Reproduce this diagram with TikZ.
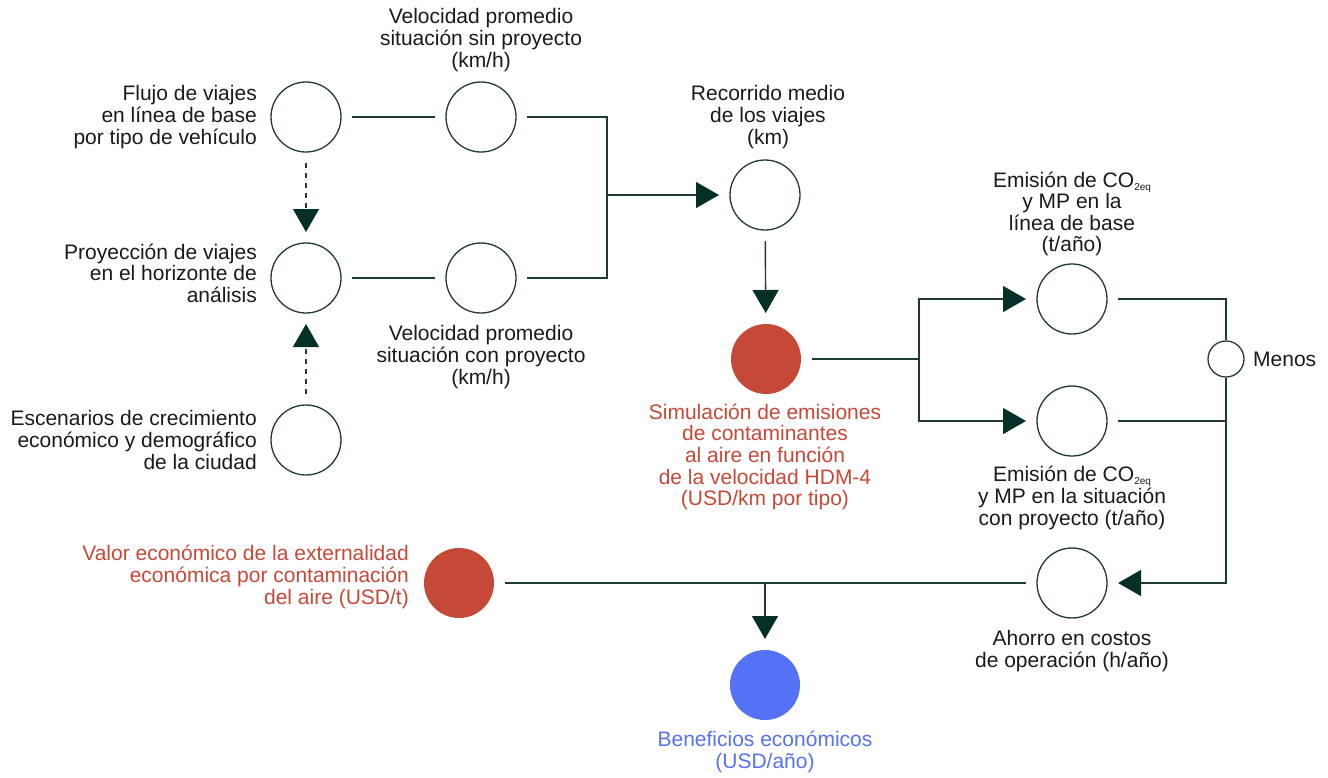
\documentclass[tikz,border=0pt]{standalone}
\usepackage{fontspec}
\setmainfont{Liberation Sans}
\usetikzlibrary{arrows.meta}
\definecolor{ln}{HTML}{1E3B35}
\definecolor{dk}{HTML}{05302A}
\definecolor{rd}{HTML}{C64937}
\definecolor{bl}{HTML}{5571F5}
\definecolor{tx}{HTML}{1A1A1A}
\newcommand{\coeq}{CO\raisebox{-3pt}{\fontsize{10}{10}\selectfont 2eq}}
\begin{document}
\begin{tikzpicture}[x=1pt,y=-1pt,
  circ/.style={circle, draw=ln, line width=1.3pt, minimum size=70pt, inner sep=0pt, outer sep=11pt},
  conn/.style={draw=ln, line width=1.4pt},
  arr/.style={conn, -{Triangle[length=23pt,width=26pt,color=dk]}},
  dsh/.style={dash pattern=on 5pt off 5pt},
  lbl/.style={font=\fontsize{21}{21.6}\selectfont, text=tx, inner sep=0pt, align=center},
]
\useasboundingbox (0,0) rectangle (1328,777);

% circles
\node[circ] (A) at (306,117) {};
\node[circ] (B) at (481,117) {};
\node[circ] (C) at (306,278) {};
\node[circ] (D) at (481,278) {};
\node[circ] (E) at (306,440) {};
\node[circ] (F) at (765,195) {};
\node[circ, fill=rd, draw=none] (G) at (766,359) {};
\node[circ] (H) at (1072,299) {};
\node[circ] (I) at (1072,421) {};
\node[circle, draw=ln, line width=1.3pt, minimum size=36pt, inner sep=0pt] (M) at (1226,359) {};
\node[circ] (J) at (1072,583) {};
\node[circ, fill=rd, draw=none] (K) at (459,583) {};
\node[circ, fill=bl, draw=none] (L) at (765,685) {};

% junctions
\coordinate (j1) at (607,195);
\coordinate (j2) at (919,359);
\coordinate (j3) at (765,583);

% connectors
\draw[conn] (A) -- (B);
\draw[conn] (C) -- (D);
\draw[conn] (B.east) -| (j1);
\draw[conn] (D.east) -| (j1);
\draw[arr] (j1) -- (F);
\draw[arr] (F) -- (G);
\draw[conn] (G) -- (j2);
\draw[arr] (j2) |- (H);
\draw[arr] (j2) |- (I);
\draw[conn] (H.east) -| (M);
\draw[conn] (I.east) -| (M);
\draw[arr] (M) |- (J);
\draw[conn] (J) -- (K);
\draw[arr] (j3) -- (L);
\draw[arr, dsh] (A) -- (C);
\draw[arr, dsh] (E) -- (C);

% labels
\node[lbl, anchor=east, align=right] (tA) at (257,117) {Flujo de viajes\\en línea de base\\por tipo de vehículo};
\node[lbl, anchor=east, align=right] (tC) at (257,273) {Proyección de viajes\\en el horizonte de\\análisis};
\node[lbl, anchor=east, align=right] (tE) at (257,440) {Escenarios de crecimiento\\económico y demográfico\\de la ciudad};
\node[lbl] (tB) at (481,40) {Velocidad promedio\\situación sin proyecto\\(km/h)};
\node[lbl] (tD) at (481,357) {Velocidad promedio\\situación con proyecto\\(km/h)};
\node[lbl] (tF) at (768,117) {Recorrido medio\\de los viajes\\(km)};
\node[lbl, text=rd] (tG) at (765,457) {Simulación de emisiones\\de contaminantes\\al aire en función\\de la velocidad HDM-4\\(USD/km por tipo)};
\node[lbl] (tH) at (1072,214) {Emisión de \coeq\\y MP en la\\línea de base\\(t/año)};
\node[lbl] (tI) at (1072,498) {Emisión de \coeq\\y MP en la situación\\con proyecto (t/año)};
\node[lbl, anchor=west] (tM) at (1253,359) {Menos};
\node[lbl] (tJ) at (1072,651) {Ahorro en costos\\de operación (h/año)};
\node[lbl, anchor=east, align=right, text=rd] (tK) at (409,577) {Valor económico de la externalidad\\económica por contaminación\\del aire (USD/t)};
\node[lbl, text=bl] (tL) at (765,752) {Beneficios económicos\\(USD/año)};
\end{tikzpicture}
\end{document}
